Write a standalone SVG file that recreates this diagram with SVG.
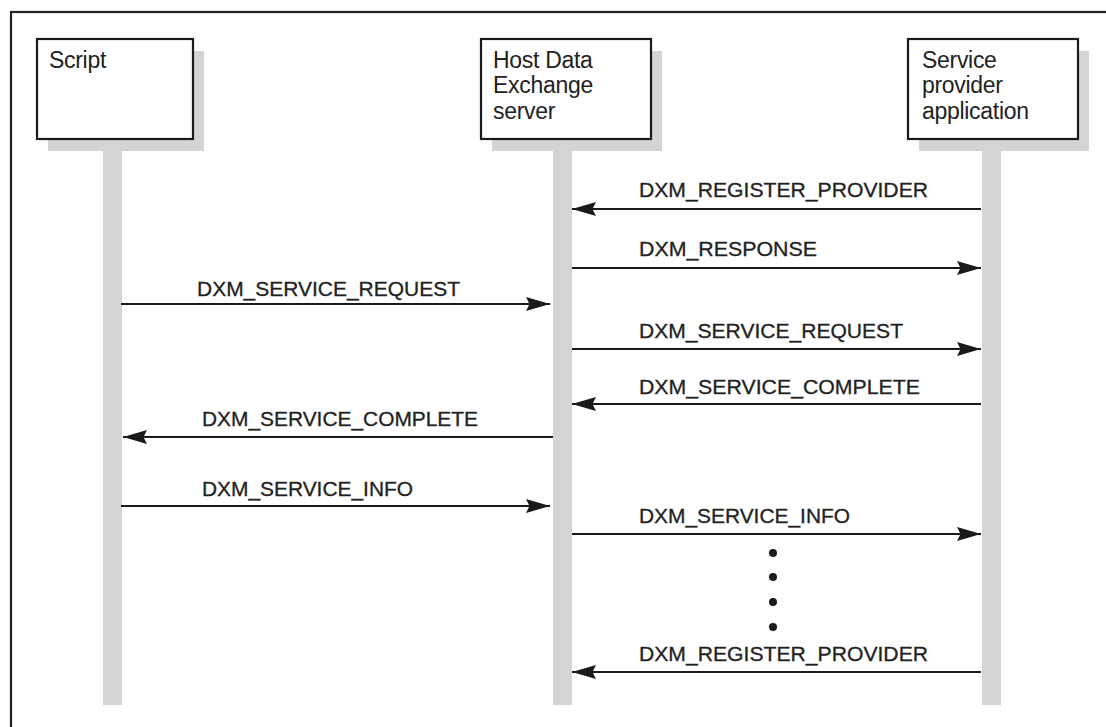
<svg xmlns="http://www.w3.org/2000/svg" width="1106" height="727" viewBox="0 0 1106 727">
  <style>
    .frame { fill: none; stroke: #222; stroke-width: 2.2; }
    .box { fill: #fff; stroke: #1a1a1a; stroke-width: 2.2; }
    .shadow { fill: #d3d4d6; }
    .life { fill: #d3d4d6; }
    .node-label { font-family: "Liberation Sans", Arial, sans-serif; font-size: 23px; fill: #222; letter-spacing: -0.3px; }
    .msg-label { font-family: "Liberation Sans", Arial, sans-serif; font-size: 20px; fill: #222; stroke: #222; stroke-width: 0.3; }
    .msg { stroke: #1a1a1a; stroke-width: 2.2; fill: none; }
    .dot { fill: #1a1a1a; }
  </style>
  <defs>
    <marker id="arrow" markerUnits="userSpaceOnUse" markerWidth="26" markerHeight="16" viewBox="-25 -8 26 16" refX="0" refY="0" orient="auto">
      <path d="M0,0 L-24,-7 L-20.5,0 L-24,7 Z" fill="#1a1a1a"/>
    </marker>
  </defs>

  <rect width="1106" height="727" fill="#fff"/>
  <!-- outer frame, open at right and bottom edges -->
  <rect class="frame" x="11" y="12" width="1200" height="800"/>

  <!-- lifelines -->
  <g id="lifelines">
    <rect class="life" x="103" y="140" width="19" height="565"/>
    <rect class="life" x="553" y="140" width="19" height="565"/>
    <rect class="life" x="982" y="140" width="19" height="565"/>
  </g>

  <g id="script">
    <rect class="shadow" x="48" y="51" width="156" height="100"/>
    <rect class="box" x="37" y="39" width="156" height="100"/>
    <text class="node-label" x="49" y="68">Script</text>
  </g>

  <g id="host">
    <rect class="shadow" x="492" y="51" width="170" height="100"/>
    <rect class="box" x="481" y="39" width="170" height="100"/>
    <text class="node-label" x="493" y="68">Host Data</text>
    <text class="node-label" x="493" y="93">Exchange</text>
    <text class="node-label" x="493" y="119">server</text>
  </g>

  <g id="provider">
    <rect class="shadow" x="919" y="51" width="170" height="100"/>
    <rect class="box" x="908" y="39" width="170" height="100"/>
    <text class="node-label" x="922" y="68">Service</text>
    <text class="node-label" x="922" y="93">provider</text>
    <text class="node-label" x="922" y="119">application</text>
  </g>

  <g id="connectors">
    <line class="msg" x1="981" y1="209" x2="572" y2="209" marker-end="url(#arrow)"/>
    <text class="msg-label" x="639" y="197" textLength="289" lengthAdjust="spacingAndGlyphs">DXM_REGISTER_PROVIDER</text>

    <line class="msg" x1="572" y1="268" x2="981" y2="268" marker-end="url(#arrow)"/>
    <text class="msg-label" x="639" y="256" textLength="178" lengthAdjust="spacingAndGlyphs">DXM_RESPONSE</text>

    <line class="msg" x1="121" y1="304" x2="550" y2="304" marker-end="url(#arrow)"/>
    <text class="msg-label" x="197" y="296" textLength="263" lengthAdjust="spacingAndGlyphs">DXM_SERVICE_REQUEST</text>

    <line class="msg" x1="572" y1="349" x2="981" y2="349" marker-end="url(#arrow)"/>
    <text class="msg-label" x="639" y="338" textLength="264" lengthAdjust="spacingAndGlyphs">DXM_SERVICE_REQUEST</text>

    <line class="msg" x1="981" y1="404" x2="572" y2="404" marker-end="url(#arrow)"/>
    <text class="msg-label" x="639" y="394" textLength="281" lengthAdjust="spacingAndGlyphs">DXM_SERVICE_COMPLETE</text>

    <line class="msg" x1="553" y1="437" x2="123" y2="437" marker-end="url(#arrow)"/>
    <text class="msg-label" x="202" y="426" textLength="276" lengthAdjust="spacingAndGlyphs">DXM_SERVICE_COMPLETE</text>

    <line class="msg" x1="121" y1="506" x2="550" y2="506" marker-end="url(#arrow)"/>
    <text class="msg-label" x="202" y="496" textLength="211" lengthAdjust="spacingAndGlyphs">DXM_SERVICE_INFO</text>

    <line class="msg" x1="572" y1="534" x2="981" y2="534" marker-end="url(#arrow)"/>
    <text class="msg-label" x="639" y="523" textLength="211" lengthAdjust="spacingAndGlyphs">DXM_SERVICE_INFO</text>

    <circle class="dot" cx="773" cy="553" r="4"/>
    <circle class="dot" cx="773" cy="577" r="4"/>
    <circle class="dot" cx="773" cy="602" r="4"/>
    <circle class="dot" cx="773" cy="627" r="4"/>

    <line class="msg" x1="981" y1="672" x2="572" y2="672" marker-end="url(#arrow)"/>
    <text class="msg-label" x="639" y="661" textLength="289" lengthAdjust="spacingAndGlyphs">DXM_REGISTER_PROVIDER</text>
  </g>
</svg>
